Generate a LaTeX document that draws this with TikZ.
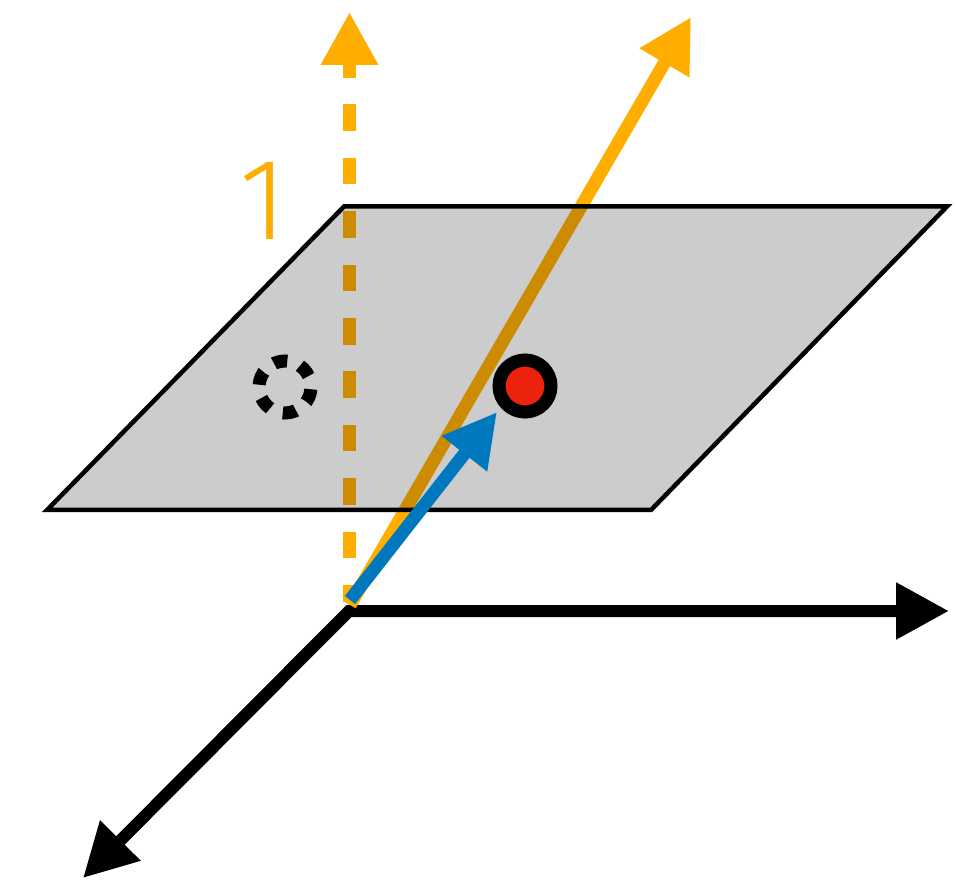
\documentclass[tikz,border=0pt]{standalone}
\usepackage{fontspec}
\setmainfont{Liberation Sans}
\newfontfamily\onefont{Fira Sans Light}
\usetikzlibrary{arrows.meta}
\definecolor{orng}{HTML}{FFAE00}
\definecolor{bluv}{HTML}{0078BE}
\definecolor{redd}{HTML}{ED220E}
\tikzset{
  bigtip/.style={-{Triangle[length=53pt,width=54pt]}},
  thickln/.style={line width=13pt},
}
\begin{document}
\begin{tikzpicture}[x=1pt,y=1pt]
\fill[white] (0,0) rectangle (958,879);
\useasboundingbox (0,0) rectangle (958,879);
% coordinates
\coordinate (O) at (349,268);
\coordinate (hx) at (949,268);
\coordinate (dx) at (83,1);
\coordinate (vb) at (349.5,277);
\coordinate (vt) at (349.5,867);
\coordinate (ob) at (350,274);
\coordinate (ot) at (691,862);
\coordinate (bb) at (350,279);
\coordinate (bt) at (497,467);
\coordinate (p1) at (47,369);
\coordinate (p2) at (344,672.5);
\coordinate (p3) at (947,672.5);
\coordinate (p4) at (651,369);
\coordinate (dot) at (525,493);
\coordinate (ghost) at (285,492);
% black axes
\draw[line width=12pt, line join=miter, {Triangle[length=53pt,width=54pt]}-{Triangle[length=53pt,width=54pt]}] (hx) -- (O) -- (dx);
% orange dashed vertical
\draw[orng, thickln, bigtip, dash pattern=on 26.7pt off 26.7pt, dash phase=9.7pt] (vb) -- (vt);
% orange solid
\draw[orng, thickln, bigtip] (ob) -- (ot);
% plane
\draw[line width=4.5pt, line join=miter, fill=black, fill opacity=0.2, draw opacity=1] (p1) -- (p2) -- (p3) -- (p4) -- cycle;
% blue arrow
\draw[bluv, thickln, bigtip] (bb) -- (bt);
% red dot
\draw[line width=13pt, fill=redd] (dot) circle (26);
% dashed ghost circle
\draw[line width=13pt, dash pattern=on 13.6pt off 13.6pt, dash phase=15.9pt] (ghost) circle (26);
% label
\node[orng, inner sep=0pt, anchor=base, font=\onefont\fontsize{116}{116}\selectfont] (one) at (263,639) {1};
\end{tikzpicture}
\end{document}
